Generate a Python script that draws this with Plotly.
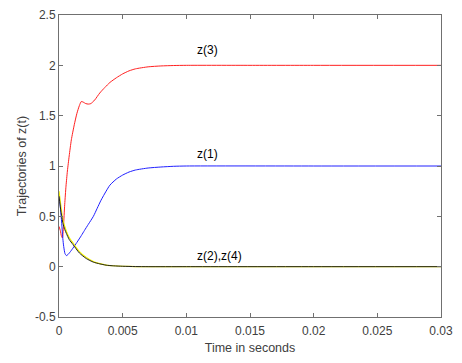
import plotly.graph_objects as go

# trajectories (time in s, value)
t_z3 = [0, 0.0001, 0.0002, 0.00027, 0.00035, 0.00045, 0.00055, 0.00066, 0.0008,
        0.00097, 0.0012, 0.0014, 0.0016, 0.00175, 0.0019, 0.0021, 0.0023, 0.0025,
        0.0028, 0.0032, 0.0036, 0.004, 0.0045, 0.005, 0.0055, 0.006, 0.007,
        0.008, 0.009, 0.01, 0.015, 0.02, 0.03]
z3 = [0.40, 0.36, 0.30, 0.285, 0.40, 0.62, 0.80, 0.95, 1.10,
      1.26, 1.41, 1.52, 1.60, 1.64, 1.635, 1.62, 1.615, 1.62,
      1.655, 1.725, 1.78, 1.83, 1.876, 1.915, 1.945, 1.965, 1.985,
      1.994, 1.998, 2.0, 2.0, 2.0, 2.0]

t_z1 = [0, 0.0001, 0.00019, 0.0003, 0.00037, 0.00047, 0.00058, 0.0007, 0.0009,
        0.0011, 0.0014, 0.00176, 0.002, 0.0023, 0.0027, 0.003, 0.0033, 0.0037,
        0.004, 0.0045, 0.005, 0.0055, 0.006, 0.007, 0.008, 0.009, 0.01, 0.02, 0.03]
z1 = [0.72, 0.60, 0.47, 0.28, 0.20, 0.13, 0.11, 0.12, 0.15,
      0.185, 0.24, 0.31, 0.36, 0.42, 0.50, 0.58, 0.66, 0.75,
      0.81, 0.87, 0.91, 0.94, 0.96, 0.98, 0.99, 0.997, 1.0, 1.0, 1.0]

t_z24 = [0, 0.00015, 0.00031, 0.00045, 0.00058, 0.0008, 0.0011, 0.0016, 0.00215,
         0.0027, 0.0032, 0.0037, 0.0043, 0.005, 0.006, 0.007, 0.01, 0.02, 0.03]
z2 = [0.75, 0.60, 0.46, 0.40, 0.35, 0.29, 0.235, 0.15, 0.09,
      0.05, 0.03, 0.016, 0.009, 0.004, 0.001, 0.0, 0.0, 0.0, 0.0]
z4 = [0.70, 0.55, 0.43, 0.37, 0.33, 0.27, 0.22, 0.136, 0.08,
      0.045, 0.028, 0.015, 0.008, 0.004, 0.001, 0.0, 0.0, 0.0, 0.0]

x_ticks = [0, 0.005, 0.01, 0.015, 0.02, 0.025, 0.03]
x_labels = ["0", "0.005", "0.01", "0.015", "0.02", "0.025", "0.03"]
y_ticks = [-0.5, 0, 0.5, 1, 1.5, 2, 2.5]
y_labels = ["-0.5", "0", "0.5", "1", "1.5", "2", "2.5"]

labels = ["z(3)", "z(1)", "z(2),z(4)"]
label_y = [2.15, 1.12, 0.11]

fig = go.Figure()
fig.add_trace(go.Scatter(x=t_z3, y=z3, mode="lines", line=dict(color="#ff2020", width=1, shape="spline", smoothing=0.6)))
fig.add_trace(go.Scatter(x=t_z1, y=z1, mode="lines", line=dict(color="#2020ff", width=1, shape="spline", smoothing=0.6)))
fig.add_trace(go.Scatter(x=t_z24, y=z2, mode="lines", line=dict(color="#f0f000", width=1.2, shape="spline", smoothing=0.6)))
fig.add_trace(go.Scatter(x=t_z24, y=z4, mode="lines", line=dict(color="#202020", width=1, shape="spline", smoothing=0.6)))

for txt, yy in zip(labels, label_y):
    fig.add_annotation(x=0.0107, y=yy, text=txt, showarrow=False, xanchor="left", yanchor="middle",
                       font=dict(family="Liberation Sans", size=12, color="#000000"))

axis_style = dict(showgrid=False, zeroline=False, showline=True, linecolor="#707070", linewidth=1,
                  mirror="ticks", ticks="inside", ticklen=4, tickcolor="#707070", automargin=False,
                  tickfont=dict(family="Liberation Sans", size=12, color="#404040"))

fig.update_xaxes(range=[0, 0.03], tickvals=x_ticks, ticktext=x_labels, ticklabelstandoff=3,
                 title=dict(text="Time in seconds", standoff=5,
                            font=dict(family="Liberation Sans", size=12.5, color="#404040")),
                 **axis_style)
fig.update_yaxes(range=[-0.5, 2.5], tickvals=y_ticks, ticktext=y_labels,
                 title=dict(text="Trajectories of z(t)", standoff=5,
                            font=dict(family="Liberation Sans", size=12.5, color="#404040")),
                 **axis_style)

# page body has an 8px margin, so the figure is 8px smaller and shifted
fig.update_layout(width=454, height=355, showlegend=False,
                  margin=dict(l=51, r=21, t=7, b=46),
                  plot_bgcolor="white", paper_bgcolor="white")

fig.write_html("out.html")
